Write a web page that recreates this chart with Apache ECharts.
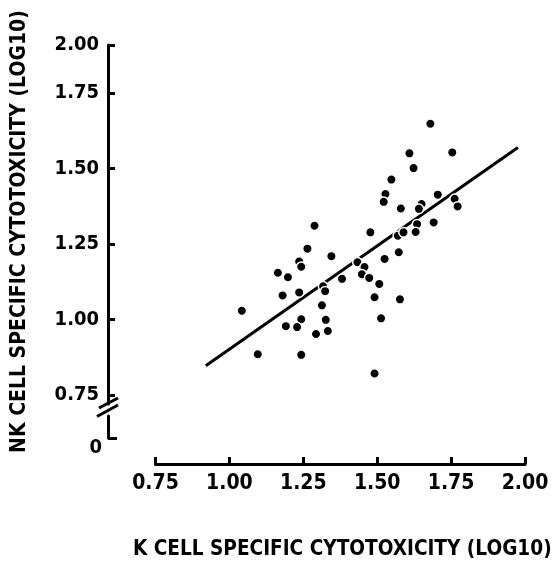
<!DOCTYPE html>
<html>
<head>
<meta charset="utf-8">
<script src="https://cdn.jsdelivr.net/npm/echarts@6/dist/echarts.min.js"></script>
<style>html,body{margin:0;padding:0;background:#fff;}#c{width:554px;height:564px;}</style>
</head>
<body>
<div id="c"></div>
<script>
// K cell specific cytotoxicity (log10)
const kCell = [1.548,1.528,1.522,1.580,1.288,1.477,1.570,1.264,1.345,1.236,1.243,1.164,1.198,1.433,1.457,1.448,1.473,1.525,1.573,1.381,1.317,1.324,1.507,1.180,1.236,1.491,1.577,1.042,1.313,1.243,1.326,1.513,1.191,1.229,1.293,1.333,1.096,1.243,1.491,1.680,1.609,1.754,1.623,1.705,1.650,1.641,1.762,1.772,1.691,1.635,1.630,1.589];
// NK cell specific cytotoxicity (log10)
const nkCell = [1.464,1.416,1.390,1.368,1.311,1.289,1.278,1.235,1.210,1.192,1.175,1.155,1.140,1.190,1.174,1.150,1.138,1.201,1.223,1.135,1.110,1.094,1.118,1.080,1.090,1.074,1.067,1.029,1.047,1.001,0.999,1.004,0.978,0.975,0.952,0.962,0.885,0.883,0.821,1.649,1.551,1.554,1.502,1.414,1.383,1.367,1.400,1.375,1.322,1.316,1.290,1.289];
// regression line end points
const fitX = [0.92, 1.976];
const fitY = [0.847, 1.570];
// tick labels
const xTickLabels = ['0.75','1.00','1.25','1.50','1.75','2.00'];
const yTickValues = [0.75, 1.00, 1.25, 1.50, 1.75, 1.91];
const yTickLabels = ['0.75','1.00','1.25','1.50','1.75','2.00'];
const yBreakLabel = ['0'];

const FONT = '"Liberation Sans Narrow","DejaVu Sans Condensed",sans-serif';
const chart = echarts.init(document.getElementById('c'), null, {renderer:'canvas'});
const axisLine = {show:true, lineStyle:{color:'#000', width:3}};
chart.setOption({
  animation:false,
  backgroundColor:'#fff',
  grid:[
    {left:155.5, right:29, top:45, bottom:160, outerBoundsMode:'none', containLabel:false},
    {left:155.5, right:29, top:416, bottom:126, outerBoundsMode:'none', containLabel:false}
  ],
  xAxis:[
    {gridIndex:0, type:'value', min:0.75, max:2.0, interval:0.25, position:'bottom', offset:60,
     axisLine:axisLine, axisTick:{show:true, inside:true, length:7, lineStyle:{color:'#000', width:3}},
     axisLabel:{margin:9, color:'#000', fontFamily:FONT, fontWeight:'bold', fontSize:21,
       formatter:(v)=>{const i=Math.round((v-0.75)/0.25); return xTickLabels[i]||'';}},
     splitLine:{show:false},
     name:'K CELL SPECIFIC CYTOTOXICITY (LOG10)', nameLocation:'middle', nameGap:75,
     nameTextStyle:{color:'#000', fontFamily:FONT, fontWeight:'bold', fontSize:20.6, padding:[0,0,0,4]}
    },
    {gridIndex:1, type:'value', min:0.75, max:2.0, show:false}
  ],
  yAxis:[
    {gridIndex:0, type:'value', min:0.72, max:1.91, offset:47.5,
     axisLine:axisLine,
     axisTick:{show:true, inside:true, length:7, customValues:yTickValues, lineStyle:{color:'#000', width:3}},
     axisLabel:{show:true, margin:9, color:'#000', fontFamily:FONT, fontWeight:'bold', fontSize:20,
       customValues:yTickValues,
       formatter:(v)=>{let best=0;for(let i=0;i<yTickValues.length;i++){if(Math.abs(yTickValues[i]-v)<Math.abs(yTickValues[best]-v))best=i;}return yTickLabels[best];}},
     splitLine:{show:false},
     name:'NK CELL SPECIFIC CYTOTOXICITY (LOG10)', nameLocation:'middle', nameRotate:90, nameGap:78,
     nameTextStyle:{color:'#000', fontFamily:FONT, fontWeight:'bold', fontSize:21, padding:[0,14,0,0]}
    },
    {gridIndex:1, type:'value', min:0, max:1, offset:47.5,
     axisLine:axisLine,
     axisTick:{show:true, inside:true, length:9, customValues:[0], lineStyle:{color:'#000', width:3}},
     axisLabel:{show:true, margin:6, color:'#000', fontFamily:FONT, fontWeight:'bold', fontSize:20,
       customValues:[0], verticalAlign:'top', formatter:()=>yBreakLabel[0]},
     splitLine:{show:false}
    }
  ],
  graphic:[
    {type:'line', shape:{x1:99, y1:408, x2:118, y2:398}, style:{stroke:'#000', lineWidth:3}},
    {type:'line', shape:{x1:97, y1:416.5, x2:118, y2:405}, style:{stroke:'#000', lineWidth:3}}
  ],
  series:[
    {type:'line', xAxisIndex:0, yAxisIndex:0, data:fitX.map((x,i)=>[x,fitY[i]]),
     symbol:'none', lineStyle:{color:'#000', width:3}, z:2},
    {type:'scatter', xAxisIndex:0, yAxisIndex:0, data:kCell.map((x,i)=>[x,nkCell[i]]),
     symbol:'circle', symbolSize:9.5, itemStyle:{color:'#000', borderColor:'#fff', borderWidth:1.5, opacity:1}, z:3}
  ]
});
</script>
</body>
</html>
